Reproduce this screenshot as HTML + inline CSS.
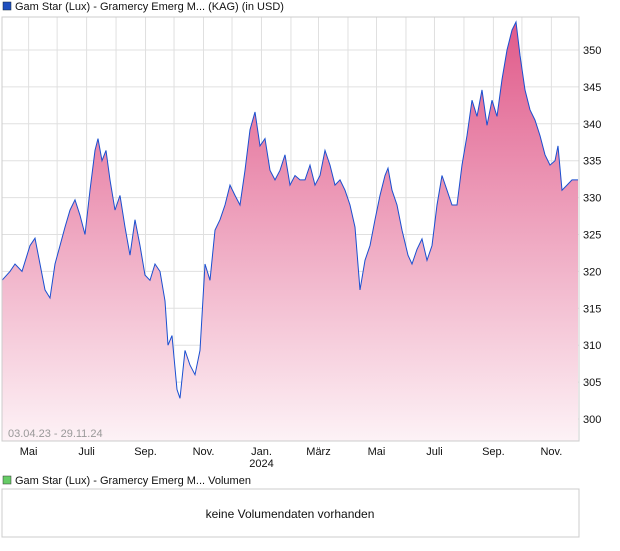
<!DOCTYPE html>
<html><head><meta charset="utf-8"><style>
body{margin:0;background:#fff;font-family:"Liberation Sans",sans-serif;}
svg text{font-family:"Liberation Sans",sans-serif;}
</style></head><body>
<svg width="620" height="546" viewBox="0 0 620 546">
<defs><linearGradient id="g" x1="0" y1="0" x2="0" y2="1">
<stop offset="0" stop-color="#e05a8a"/><stop offset="1" stop-color="#fdf2f6"/></linearGradient></defs>
<rect x="3" y="2" width="8" height="8" fill="#1f4fbf" stroke="#123" stroke-width="0.5"/>
<text x="15" y="10" font-size="11" fill="#111">Gam Star (Lux) - Gramercy Emerg M... (KAG) (in USD)</text>
<g id="grid"></g>
<path id="area" fill="url(#g)"/>
<path id="line" fill="none" stroke="#1a4fd0" stroke-width="1"/>
<rect x="2" y="17" width="577" height="424" fill="none" stroke="#ccc"/>
<g id="yl"></g>
<g id="xl"></g>
<text x="8" y="437" font-size="11" fill="#999">03.04.23 - 29.11.24</text>
<rect x="3" y="476" width="8" height="8" fill="#66cc66" stroke="#333" stroke-width="0.5"/>
<text x="15" y="484" font-size="11" fill="#111">Gam Star (Lux) - Gramercy Emerg M... Volumen</text>
<rect x="2" y="489" width="577" height="48" fill="#fff" stroke="#ccc"/>
<text x="290" y="518" font-size="12" fill="#111" text-anchor="middle">keine Volumendaten vorhanden</text>
</svg>
<script>
const xs=[2,10,15,22,30,35,40,45,50,55,60,65,70,75,80,85,90,95,98,102,106,110,115,120,125,130,135,140,145,150,155,160,165,168,172,177,180,185,190,195,200,205,210,215,220,225,230,235,240,245,250,255,260,265,270,275,280,285,290,295,300,305,310,315,320,325,330,335,340,345,350,355,360,365,370,375,380,385,388,392,397,402,408,412,417,422,427,432,437,442,447,452,457,462,467,472,477,482,487,492,497,502,507,512,516,520,525,530,535,540,545,550,555,558,562,567,572,578];
const dayIdx=xs.map(x=>(x-2)/576*606);
const prices=[318.8,320,321,320,323.5,324.5,321,317.5,316.4,321,323.5,326,328.3,329.7,327.6,325,331,336.4,338,335,336.4,332.4,328.3,330.3,326,322.2,327,323.5,319.5,318.8,321,320,316,310,311.3,304,302.8,309.3,307.3,306,309.3,321,318.8,325.6,327,329,331.7,330.3,329,333.7,339.2,341.6,337,338,333.7,332.4,333.7,335.8,331.7,333,332.4,332.4,334.4,331.7,333,336.4,334.4,331.7,332.4,331,329,326,317.5,321.5,323.5,327,330.3,333,334,331,329,325.6,322.2,321,323,324.4,321.5,323.5,329,333,331,329,329,334.4,338.4,343.2,341,344.6,339.8,343.2,341,346,350,352.7,353.8,349.3,344.6,341.9,340.5,338.4,335.8,334.4,335,337,331,331.7,332.4,332.4];
const yTicks=[300,305,310,315,320,325,330,335,340,345,350];
const months=["Mai","Juli","Sep.","Nov.","Jan.","März","Mai","Juli","Sep.","Nov."];
const monthDays=[28,89,151,212,273,333,394,455,517,578];
const gridDays=[28,58,89,120,151,181,212,242,273,304,333,364,394,425,455,486,517,547,578,608];
const X=d=>2+d*576/606, Y=v=>50+(350-v)*7.38;
const NS="http://www.w3.org/2000/svg";
const grid=document.getElementById('grid'),yl=document.getElementById('yl'),xl=document.getElementById('xl');
function mk(tag,a,p){const e=document.createElementNS(NS,tag);for(const k in a)e.setAttribute(k,a[k]);p.appendChild(e);return e;}
gridDays.forEach(d=>{const x=X(d);if(x<579){const l=mk('line',{x1:x,x2:x,y1:17,y2:441,stroke:'#e0e0e0'},grid);

}});
yTicks.forEach(v=>{const y=Y(v);const l=mk('line',{x1:2,x2:579,y1:y,y2:y,stroke:'#e0e0e0'},grid);


const t=mk('text',{x:583,y:y+4,'font-size':11,fill:'#111'},yl);t.textContent=v;

});
months.forEach((m,i)=>{const t=mk('text',{x:X(monthDays[i]),y:455,'font-size':11,fill:'#111','text-anchor':'middle'},xl);t.textContent=m;

});
const yr=mk('text',{x:X(273),y:467,'font-size':11,fill:'#111','text-anchor':'middle'},xl);yr.textContent='2024';


let d='';prices.forEach((v,i)=>{d+=(i?'L':'M')+X(dayIdx[i]).toFixed(1)+' '+Y(v).toFixed(1);});
document.getElementById('line').setAttribute('d',d);
document.getElementById('area').setAttribute('d',d+'L'+X(dayIdx[dayIdx.length-1]).toFixed(1)+' 441L'+X(dayIdx[0])+' 441Z');
</script>
</body></html>
